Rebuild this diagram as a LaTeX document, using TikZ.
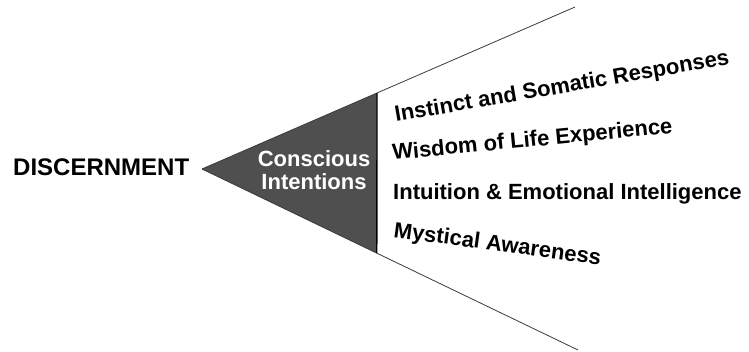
\documentclass[tikz,border=0pt]{standalone}
\usepackage{fontspec}
\setmainfont{Liberation Sans}
\usetikzlibrary{calc}
\definecolor{wedge}{HTML}{4F4F4F}
\definecolor{rayline}{HTML}{3A3A3A}
\tikzset{
  ray/.style={draw=rayline, line width=0.8pt},
  label22/.style={font=\fontsize{22}{23}\selectfont\bfseries, inner sep=0pt, anchor=base west, text=black},
}
\begin{document}
\begin{tikzpicture}[x=1pt,y=-1pt]
\useasboundingbox (0,0) rectangle (749,352);
\coordinate (apex) at (202,169);
\coordinate (topend) at (575,7);
\coordinate (botend) at (578,350);
\coordinate (top) at ($(apex)!0.469!(topend)$);
\coordinate (bot) at ($(apex)!0.465!(botend)$);
\fill[wedge] (apex) -- (top) -- (bot) -- cycle;
\draw[ray] (apex) -- (topend);
\draw[ray] (apex) -- (botend);
\draw[black, line width=1.3pt] (top) -- (bot);
\node[font=\fontsize{24}{26}\selectfont\bfseries, inner sep=0pt, anchor=base west] (disc) at (13,176) {DISCERNMENT};
\node[font=\fontsize{22}{23}\selectfont\bfseries, text=white, align=center, inner sep=0pt, anchor=base] (ci) at (314,190) {Conscious\\Intentions};
\node[label22, rotate=9.8] (inst) at (396,122) {Instinct and Somatic Responses};
\node[label22, rotate=5.5] (wis) at (393,160) {Wisdom of Life Experience};
\node[label22] (intu) at (393,200) {Intuition \& Emotional Intelligence};
\node[label22, rotate=-7.7] (myst) at (393,237) {Mystical Awareness};
\end{tikzpicture}
\end{document}
